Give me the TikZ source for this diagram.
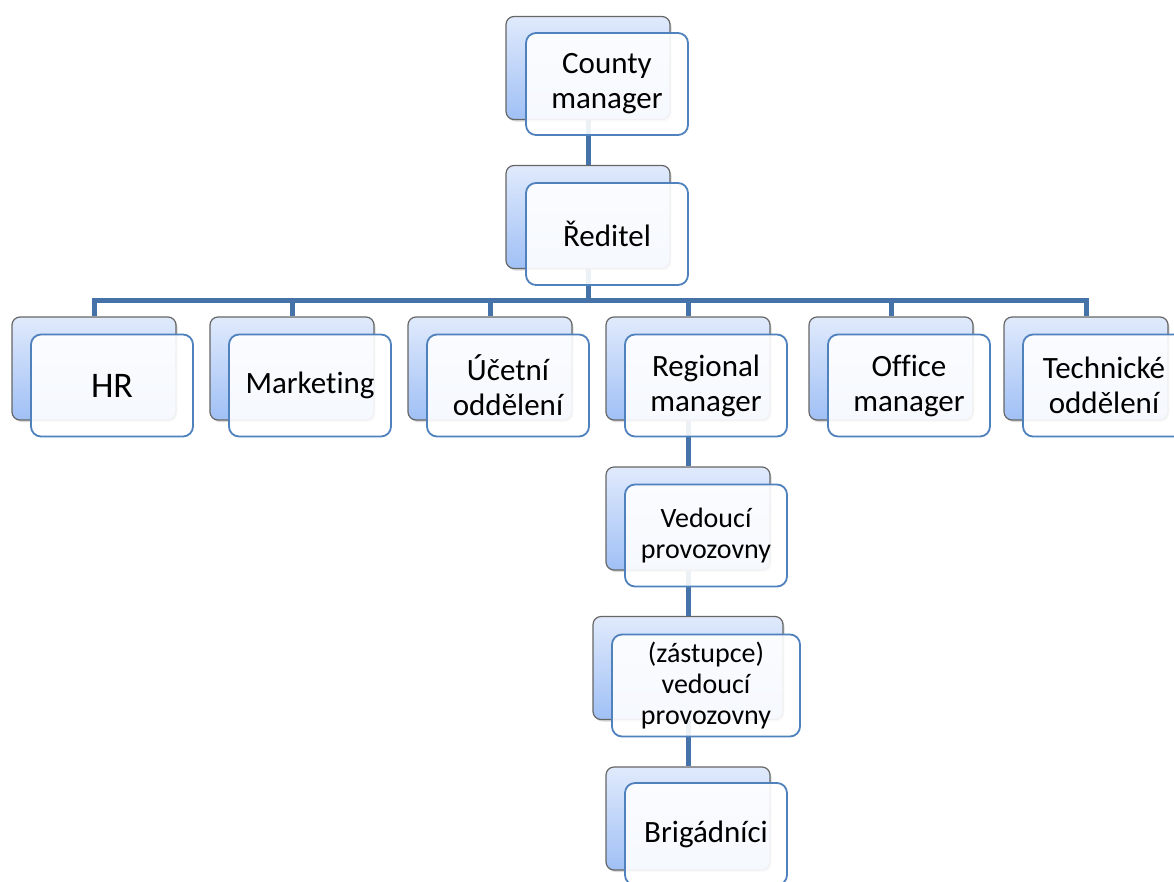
\documentclass[tikz,border=0pt]{standalone}
\usepackage{fontspec}
\setmainfont{Carlito}[Ligatures=NoCommon]
\usetikzlibrary{positioning,shadows,backgrounds}
\definecolor{linkblue}{RGB}{70,114,170}
\definecolor{rimblue}{RGB}{79,129,189}
\definecolor{boxtop}{RGB}{224,234,252}
\definecolor{boxbot}{RGB}{160,192,245}

\begin{document}
\begin{tikzpicture}
	[   x=1pt,y=-1pt,
	    bnode/.style={draw=black!60,line width=1.2pt,rounded corners=8pt,top color=boxtop,bottom color=boxbot,minimum width=#1,minimum height=103pt,inner sep=0pt,drop shadow={shadow xshift=1.5pt,shadow yshift=-2pt,opacity=0.3}},
	    bnode/.default=164pt,
	    fnode/.style={draw=rimblue,line width=1.8pt,rounded corners=10pt,fill=white,fill opacity=0.9,text opacity=1,minimum width=#1,minimum height=102pt,inner sep=0pt,align=center,font=\fontsize{31}{35}\selectfont},
	    fnode/.default=162pt,
	]
	\tikzset{org line/.style={draw=linkblue,line width=5pt}}
	\useasboundingbox (0,0) rectangle (1174,881);
	
	\node[bnode] (b-cm) at (588,68) {};
	\node[fnode] (f-cm) at (607,84) {County\\manager};
	
	\node[bnode] (b-re) at (588,217) {};
	\node[fnode] (f-re) at (607,234) {Ředitel};
	
	% departments under the director
	\foreach \n/\x/\t [count=\i] in {hr/94/HR,mk/292/Marketing,uo/490/{Účetní\\oddělení},rm/688/{Regional\\manager},om/891/{Office\\manager},to/1086/{Technické\\oddělení}}
	{
		\node[bnode] (b-\n) at (\x,368.5) {};
		\ifnum \i=1
		\node[fnode,font=\fontsize{36}{40}\selectfont] (f-\n) at (\x+18,385.5) {\t};
		\else
		\node[fnode] (f-\n) at (\x+18,385.5) {\t};
		\fi
	}
	
	\node[bnode] (b-vp) at (688,518.5) {};
	\node[fnode,font=\fontsize{28}{31}\selectfont] (f-vp) at (706,535.5) {Vedoucí\\provozovny};
	
	\node[bnode=190pt] (b-zv) at (688,668) {};
	\node[fnode=188pt,font=\fontsize{28}{31}\selectfont] (f-zv) at (706,685.5) {(zástupce)\\vedoucí\\provozovny};
	
	\node[bnode] (b-br) at (688,818.5) {};
	\node[fnode] (f-br) at (706,834) {Brigádníci};
	
	\begin{scope}[on background layer]
		\coordinate (bus) at (0,300);
		\path[org line] (b-cm) -- (b-re);
		\foreach \n in {hr,mk,uo,rm,om,to}
		\path[org line] (b-re) -- (b-re |- bus) -| (b-\n);
		\path[org line] (b-rm) -- (b-vp) -- (b-zv) -- (b-br);
	\end{scope}
\end{tikzpicture}
\end{document}
